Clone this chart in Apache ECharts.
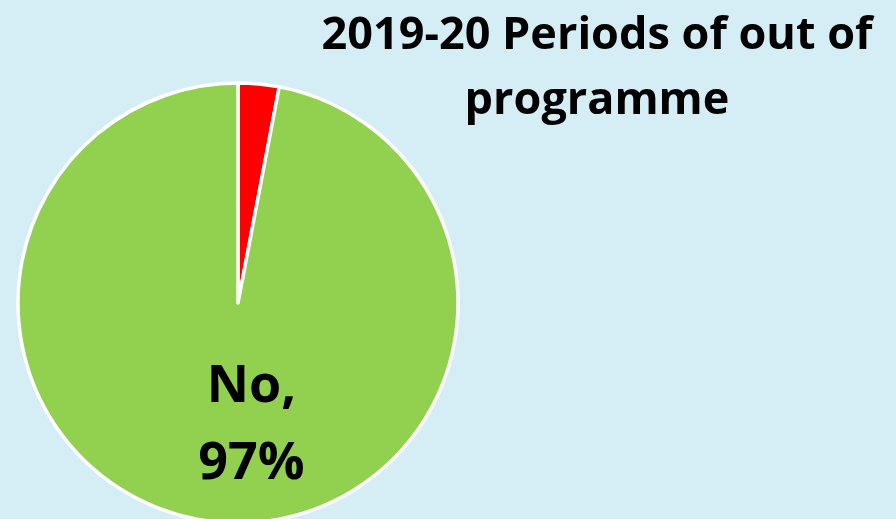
<!DOCTYPE html>
<html><head><meta charset="utf-8">
<script src="https://cdn.jsdelivr.net/npm/echarts@6/dist/echarts.min.js"></script>
<style>html,body{margin:0;padding:0;background:#d5edf4;}#c{width:896px;height:519px;}</style>
</head><body><div id="c"></div>
<script>
const categories = ['Yes', 'No'];
const values = [3, 97];
const colors = ['#ff0000', '#92d050'];
const titleText = '2019-20 Periods of out of\nprogramme';

const chart = echarts.init(document.getElementById('c'));
chart.setOption({
  backgroundColor: '#d5edf4',
  animation: false,
  title: {
    text: titleText,
    left: 597, top: 4, textAlign: 'center', padding: 0,
    textStyle: { fontFamily: 'Open Sans', fontWeight: 'bold', fontSize: 45, lineHeight: 65, color: '#000' }
  },
  series: [{
    type: 'pie',
    center: [238, 303],
    radius: [0, 220],
    startAngle: 90,
    clockwise: true,
    itemStyle: { borderColor: '#ffffff', borderWidth: 3.5 },
    labelLine: { show: false },
    data: categories.map((c, i) => ({
      name: c, value: values[i],
      itemStyle: { color: colors[i] },
      label: i === 1 ? {
        show: true, position: 'inside', offset: [24, 10],
        formatter: '{b},\n{d}%',
        fontFamily: 'Open Sans', fontWeight: 'bold', fontSize: 52, lineHeight: 77, color: '#000'
      } : { show: false }
    }))
  }]
});
</script></body></html>
